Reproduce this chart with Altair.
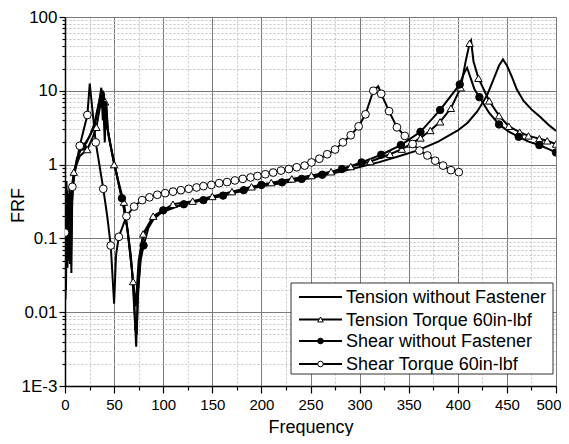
import altair as alt
import pandas as pd

# ---------------- data ----------------
series_names = ["Tension without Fastener", "Tension Torque 60in-lbf",
                "Shear without Fastener", "Shear Torque 60in-lbf"]

# Tension without Fastener (solid line, no markers)
tw_f = [0, 0.5, 1.5, 2.5, 3.5, 5, 7, 9, 12, 16, 20, 25, 30, 34, 37, 38.5, 39.5, 41, 42, 44, 48, 52, 56, 60,
        64, 68, 71, 72.5, 74, 77, 80, 85, 90, 100, 120, 140, 160, 180, 200, 220, 240, 260, 280, 300, 320,
        340, 360, 380, 400, 410, 420, 430, 437, 442, 446, 450, 455, 460, 467, 475, 484, 492, 500]
tw_v = [0.5, 0.015, 0.6, 0.04, 0.4, 0.045, 0.3, 0.7, 1.2, 1.6, 1.9, 2.4, 3.3, 6, 11, 4, 9.5, 3, 6, 2.6, 1.4,
        0.8, 0.45, 0.26, 0.12, 0.04, 0.009, 0.0034, 0.015, 0.06, 0.11, 0.15, 0.19, 0.23, 0.29, 0.33, 0.38,
        0.44, 0.51, 0.56, 0.62, 0.7, 0.8, 0.93, 1.08, 1.3, 1.57, 2.05, 2.9, 3.7, 5.3, 8.8, 15, 22, 26.6, 22,
        15.5, 10.5, 7.3, 5.6, 4.4, 3.5, 2.86]

# Tension Torque 60in-lbf (line + open triangles)
tt_f = [0, 1, 2, 3, 4.5, 6, 9, 15, 22.6, 28, 32, 36, 38.5, 40.8, 42, 44, 50, 55, 60, 64, 67, 69.4, 72, 75,
        79.6, 89.8, 110, 130, 150, 170, 190, 210, 231, 251, 271, 291, 311, 331, 343, 352, 362, 372, 382,
        393, 403, 408, 412, 413.5, 416, 421, 432, 442, 452, 463, 472, 483, 491, 500]
tt_v = [0.1, 0.6, 0.04, 0.35, 0.05, 0.4, 0.79, 1.3, 1.6, 2.3, 3.2, 6.5, 10, 7.1, 3.5, 2.8, 1.0, 0.55, 0.31,
        0.12, 0.05, 0.026, 0.012, 0.05, 0.115, 0.2, 0.29, 0.32, 0.37, 0.43, 0.5, 0.57, 0.64, 0.71, 0.8,
        0.94, 1.1, 1.38, 1.62, 1.9, 2.3, 2.9, 3.8, 5.8, 11, 25, 44, 48, 25, 14.8, 7.3, 4.6, 3.3, 2.75,
        2.45, 2.25, 2.1, 1.9]
tt_mf = [9, 22.6, 32, 40.8, 50, 60, 69.4, 79.6, 89.8, 110, 130, 150, 170, 190, 210, 231, 251, 271, 291,
         311, 331, 343, 352, 362, 372, 382, 393, 403, 412, 421, 432, 442, 452, 463, 472, 483, 491, 500]
tt_mv = [0.79, 1.6, 3.2, 7.1, 1.0, 0.31, 0.026, 0.115, 0.2, 0.29, 0.32, 0.37, 0.43, 0.5, 0.57, 0.64,
         0.71, 0.8, 0.94, 1.1, 1.38, 1.62, 1.9, 2.3, 2.9, 3.8, 5.8, 11, 44, 14.8, 7.3, 4.6, 3.3, 2.75,
         2.45, 2.25, 2.1, 1.9]

# Shear without Fastener (line + filled circles)
sw_f = [0, 1, 2, 3, 4.5, 6, 7.5, 10, 14, 18, 22, 26, 30, 34, 37.5, 39, 40.5, 42, 43.5, 46, 50, 54, 58,
        63, 67, 70, 71.5, 73, 74.5, 77, 80, 85, 90, 100, 121, 141, 161, 182, 200, 221, 241, 262, 282,
        302, 322, 342, 362, 382, 402, 406, 409.5, 413, 417, 422, 432, 442, 452, 462, 472, 483, 492, 500]
sw_v = [0.3, 0.02, 0.45, 0.06, 0.5, 0.05, 0.45, 0.9, 1.4, 1.75, 2.0, 2.6, 3.6, 6.5, 10, 6.5, 2, 7, 3,
        1.9, 1.1, 0.6, 0.35, 0.15, 0.06, 0.02, 0.006, 0.005, 0.02, 0.05, 0.08, 0.14, 0.18, 0.24, 0.29,
        0.33, 0.38, 0.45, 0.53, 0.575, 0.64, 0.73, 0.87, 1.07, 1.36, 1.84, 2.78, 5.5, 12.2, 17, 20.5,
        15, 10.5, 8.2, 5, 3.5, 2.8, 2.38, 2.05, 1.84, 1.63, 1.46]
sw_mf = [18, 39, 58, 80, 100, 121, 141, 161, 182, 200, 221, 241, 262, 282, 302, 322, 342, 362, 382,
         402, 422, 442, 462, 483, 500]
sw_mv = [1.75, 6.5, 0.35, 0.08, 0.24, 0.29, 0.33, 0.38, 0.45, 0.53, 0.575, 0.64, 0.73, 0.87, 1.07,
         1.36, 1.84, 2.78, 5.5, 12.2, 8.2, 3.5, 2.38, 1.84, 1.46]

# Shear Torque 60in-lbf (line + open circles)
st_mf = [0, 7.5, 15, 22.8, 31.3, 39, 46.6, 54.8, 62.6, 70.4, 78.6, 86, 94, 102, 110, 118, 126, 134, 141,
         149, 157, 165, 173, 181, 189, 196, 204, 212, 220, 228, 236, 244, 251, 259, 267, 275, 283, 291,
         299, 306, 314, 322, 330, 338, 346, 354, 361, 369, 377, 385, 393, 401]
st_mv = [0.12, 0.5, 1.8, 4.7, 2.0, 0.47, 0.08, 0.105, 0.2, 0.27, 0.33, 0.36, 0.39, 0.41, 0.43, 0.45,
         0.47, 0.49, 0.51, 0.53, 0.56, 0.58, 0.61, 0.64, 0.67, 0.70, 0.74, 0.78, 0.83, 0.87, 0.92, 0.97,
         1.07, 1.2, 1.38, 1.6, 2.0, 2.5, 3.3, 4.8, 10.0, 9.1, 5.3, 3.2, 2.45, 1.9, 1.55, 1.33, 1.13, 0.97,
         0.84, 0.79]
st_xf = [1, 2, 3, 4, 5.5, 6.5, 25.2, 35, 43, 50, 52, 319]   # extra line vertices (spikes / peaks)
st_xv = [0.4, 0.06, 0.3, 0.05, 0.25, 0.034, 12.5, 1.0, 0.2, 0.013, 0.06, 11.5]

x_ticks = list(range(0, 501, 25))
y_major = [0.001, 0.01, 0.1, 1, 10, 100]
y_ticks = [round(m * d, 6) for d in [0.001, 0.01, 0.1, 1, 10] for m in range(1, 10)] + [100]

# ---------------- tables ----------------
def frame(name, f, v):
    return pd.DataFrame({"series": name, "f": f, "v": v})

st_line = frame(series_names[3], st_mf + st_xf, st_mv + st_xv).sort_values("f")
lines = pd.concat([
    frame(series_names[0], tw_f, tw_v),
    frame(series_names[1], tt_f, tt_v),
    frame(series_names[2], sw_f, sw_v),
    st_line,
], ignore_index=True)

tri = frame(series_names[1], tt_mf, tt_mv)
dot = frame(series_names[2], sw_mf, sw_mv)
circ = frame(series_names[3], st_mf, st_mv)

# ---------------- scales & axes ----------------
FONT = "Liberation Sans"
xscale = alt.Scale(domain=[0, 500], nice=False, zero=False)
yscale = alt.Scale(type="log", domain=[0.001, 100], nice=False)

x_major_test = "datum.value % 50 == 0"
y_major_test = "indexof([0.001,0.01,0.1,1,10,100], datum.value) >= 0"

xaxis = alt.Axis(
    values=x_ticks, title="Frequency",
    labelExpr=f"{x_major_test} ? datum.value : ''",
    labelOverlap=False, labelFlush=False, labelFont=FONT, labelFontSize=15,
    labelColor="black", labelPadding=4,
    labelAlign={"condition": {"test": "datum.value == 500", "value": "right"}, "value": "center"},
    labelOffset={"condition": {"test": "datum.value == 500", "value": 5}, "value": 0},
    titleFont=FONT, titleFontSize=18, titleFontWeight="normal", titleColor="black",
    titleY=46, titleBaseline="alphabetic",
    domainColor="black", domainWidth=1.5,
    tickColor="black", tickWidth=1.2,
    tickSize={"condition": {"test": x_major_test, "value": 7}, "value": 4},
    grid=True,
    gridColor={"condition": {"test": x_major_test, "value": "#7a7a7a"}, "value": "#c4c4c4"},
    gridDash={"condition": {"test": x_major_test, "value": []}, "value": [2, 2]},
    gridWidth=1,
)
yaxis = alt.Axis(
    values=y_ticks, title="FRF",
    labelExpr=f"datum.value == 0.001 ? '1E-3' : ({y_major_test} ? '' + datum.value : '')",
    labelOverlap=False, labelFlush=False, labelFont=FONT, labelFontSize=17,
    labelColor="black", labelPadding=2,
    titleFont=FONT, titleFontSize=18, titleFontWeight="normal", titleColor="black",
    titleAngle=270, titleX=-42, titleY=188, titleBaseline="alphabetic",
    domainColor="black", domainWidth=1.5,
    tickColor="black", tickWidth=1.2,
    tickSize={"condition": {"test": y_major_test, "value": 6}, "value": 3},
    grid=True,
    gridColor={"condition": {"test": y_major_test, "value": "#7a7a7a"}, "value": "#c4c4c4"},
    gridDash={"condition": {"test": y_major_test, "value": []}, "value": [2, 2]},
    gridWidth=1,
)

X = alt.X("f:Q", scale=xscale, axis=xaxis)
Y = alt.Y("v:Q", scale=yscale, axis=yaxis)

line_layer = alt.Chart(lines).mark_line(color="black", strokeWidth=2, clip=True).encode(
    x=X, y=Y, detail="series:N")

tri_layer = alt.Chart(tri).mark_point(shape="triangle-up", filled=True, fill="white", stroke="black",
                                      strokeWidth=1, size=55, opacity=1, clip=True).encode(x=X, y=Y)
dot_layer = alt.Chart(dot).mark_point(shape="circle", filled=True, fill="black", stroke="black",
                                      strokeWidth=1, size=55, opacity=1, clip=True).encode(x=X, y=Y)
circ_layer = alt.Chart(circ).mark_point(shape="circle", filled=True, fill="white", stroke="black",
                                        strokeWidth=1, size=60, opacity=1, clip=True).encode(x=X, y=Y)

# ---------------- legend (drawn) ----------------
LX0, LX1, LY0, LY1 = 226, 488, 266, 357
row_y = [280, 302.5, 324, 347]
legend_layers = [
    alt.Chart(pd.DataFrame({"a": [0]})).mark_rect(fill="white", stroke="#333", strokeWidth=1).encode(
        x=alt.value(LX0), x2=alt.value(LX1), y=alt.value(LY0), y2=alt.value(LY1))
]
legend_marks = [None, ("triangle-up", "white"), ("circle", "black"), ("circle", "white")]
for name, yy, mk in zip(series_names, row_y, legend_marks):
    d = pd.DataFrame({"label": [name]})
    legend_layers.append(alt.Chart(d).mark_rule(color="black", strokeWidth=1.8).encode(
        x=alt.value(234), x2=alt.value(277), y=alt.value(yy)))
    if mk is not None:
        legend_layers.append(alt.Chart(d).mark_point(shape=mk[0], filled=True, fill=mk[1], stroke="black",
                                                     strokeWidth=1, size=32, opacity=1).encode(
            x=alt.value(255.5), y=alt.value(yy)))
    legend_layers.append(alt.Chart(d).mark_text(align="left", baseline="middle", font=FONT, fontSize=18,
                                                color="black").encode(
        x=alt.value(281), y=alt.value(yy + 1), text="label:N"))

chart = alt.layer(line_layer, tri_layer, dot_layer, circ_layer, *legend_layers).properties(
    width=491, height=369,
    autosize=alt.AutoSizeParams(type="none"),
    padding={"left": 57, "top": 9, "right": 5, "bottom": 50},
).configure_view(stroke="#333", strokeWidth=1).configure(background="white")

chart.save("out.html", embed_options={"renderer": "svg", "actions": False})
